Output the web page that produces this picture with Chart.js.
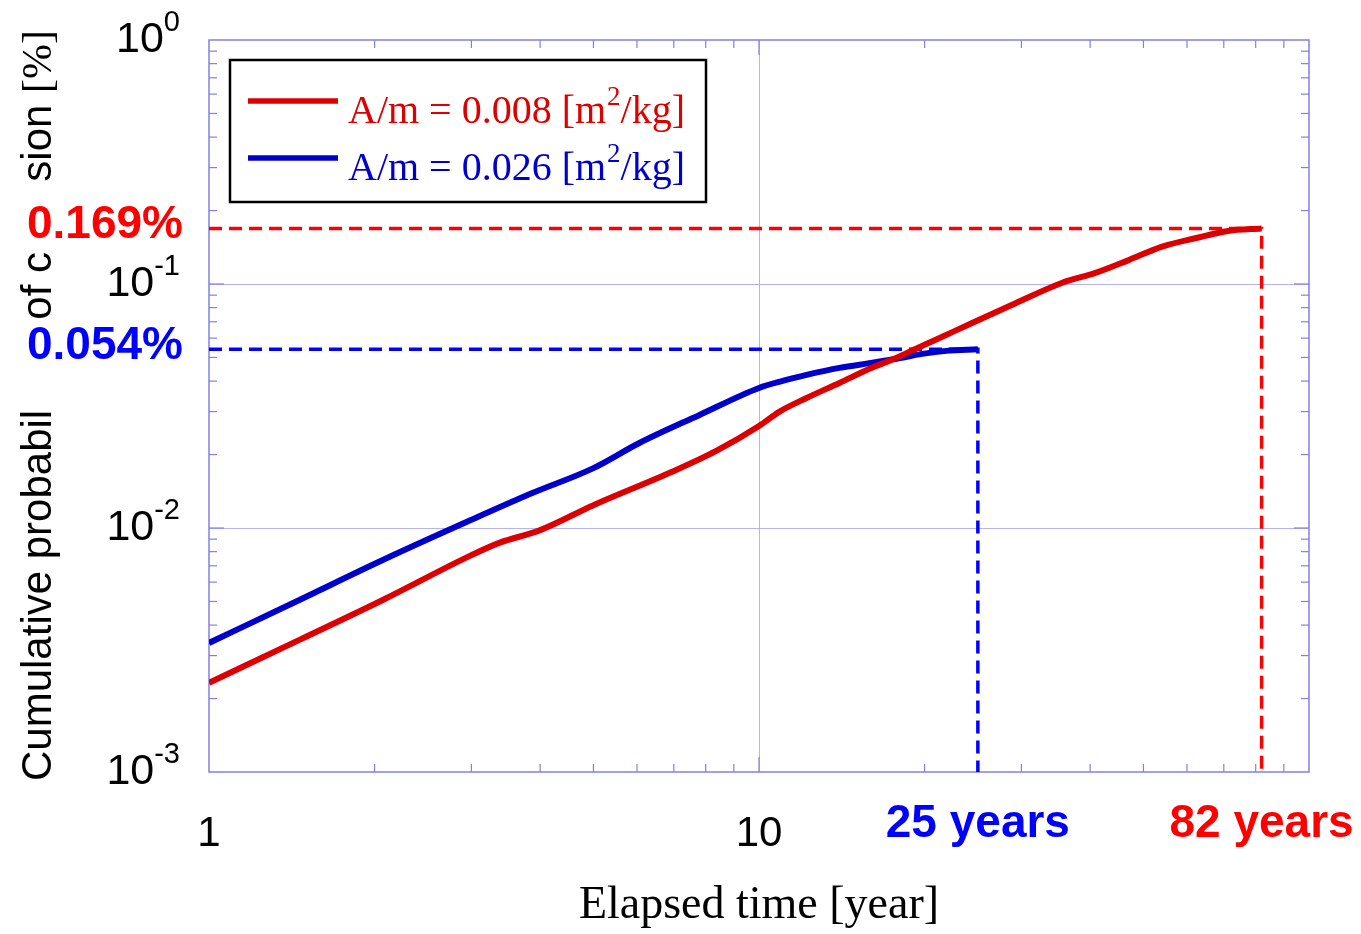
<!doctype html>
<html>

<head>
    <title>Cumulative probability of collision</title>
    <script src="https://cdn.jsdelivr.net/npm/chart.js"></script>
</head>

<style>
    body { margin: 0; background: white; }
</style>

<body>
    <canvas id="grafico" width="1361" height="934"></canvas>

    <script>
        // values (years, percent)
        var redYears = [1, 1.46, 2.07, 3.0, 3.37, 4.0, 5.0, 6.95, 8.36, 10, 10.9, 12.2, 14, 16, 17.4, 19.3, 21.2, 24.4, 28.8, 35.5, 40.9, 46.9, 53.9, 62.1, 71.3, 82];
        var redProb = [0.00232, 0.00348, 0.00507, 0.00774, 0.00869, 0.0098, 0.0124, 0.0170, 0.0207, 0.0262, 0.0300, 0.0341, 0.0393, 0.0453, 0.0488, 0.0543, 0.0598, 0.0692, 0.0820, 0.101, 0.111, 0.125, 0.142, 0.154, 0.165, 0.169];
        var blueYears = [1, 1.46, 2.07, 3.0, 3.87, 5.0, 6.06, 7.78, 10, 11, 12.2, 14, 16, 17.7, 19.8, 21.9, 25];
        var blueProb = [0.00338, 0.00507, 0.00739, 0.0108, 0.0139, 0.0176, 0.0223, 0.0290, 0.0375, 0.0400, 0.0424, 0.0453, 0.0475, 0.0493, 0.0517, 0.0532, 0.054];
        var areaToMass = ['0.008', '0.026'];

        var xMin = 1, xMax = 100;
        var yMin = 0.001, yMax = 1;
        var xTickLabels = [1, 10];
        var yTickExponents = [0, -1, -2, -3];
        var xGridValues = [10];
        var yGridValues = [0.1, 0.01];
        // the y title is partly covered by the value labels: only these pieces show
        var yTitleStart = 'Cumulative probabil';
        var yTitleMiddle = 'of c';
        var yTitleEnd = 'sion ';

        var sans = '"Liberation Sans", Arial, sans-serif';
        var serif = '"Liberation Serif", "Times New Roman", serif';
        var redLine = '#dd0000', blueLine = '#0000cc';
        var redDash = '#ff0000', blueDash = '#0000ff';
        var frameColor = '#8080e6';
        var gridColor = '#b4b4f0';

        function pontos(xs, ys) {
            return xs.map(function (x, i) { return { x: x, y: ys[i] }; });
        }

        function guia(xs, ys) {
            var n = xs.length - 1;
            return [{ x: xMin, y: ys[n] }, { x: xs[n], y: ys[n] }, { x: xs[n], y: yMin }];
        }

        function seg(ctx, x1, y1, x2, y2) {
            ctx.beginPath();
            ctx.moveTo(x1, y1);
            ctx.lineTo(x2, y2);
            ctx.stroke();
        }

        var decor = {
            id: 'decor',
            beforeDatasetsDraw: function (chart) {
                var ctx = chart.ctx, a = chart.chartArea;
                var xs = chart.scales.x, ys = chart.scales.y;
                ctx.save();
                ctx.lineWidth = 1;
                ctx.strokeStyle = gridColor;
                xGridValues.forEach(function (v) {
                    var px = Math.round(xs.getPixelForValue(v)) + 0.5;
                    seg(ctx, px, a.top, px, a.bottom);
                });
                yGridValues.forEach(function (v) {
                    var py = Math.round(ys.getPixelForValue(v)) + 0.5;
                    seg(ctx, a.left, py, a.right, py);
                });

                ctx.strokeStyle = frameColor;
                ctx.lineWidth = 1.5;
                ctx.strokeRect(a.left, a.top, a.right - a.left, a.bottom - a.top);

                // minor ticks inside, all four sides
                ctx.lineWidth = 1.2;
                for (var e = 0; e < 2; e++) {
                    for (var k = 2; k <= 9; k++) {
                        var px = xs.getPixelForValue(k * Math.pow(10, e));
                        seg(ctx, px, a.bottom, px, a.bottom - 8);
                        seg(ctx, px, a.top, px, a.top + 8);
                    }
                }
                for (var e = -3; e < 0; e++) {
                    for (var k = 2; k <= 9; k++) {
                        var py = ys.getPixelForValue(k * Math.pow(10, e));
                        seg(ctx, a.left, py, a.left + 8, py);
                        seg(ctx, a.right, py, a.right - 8, py);
                    }
                }
                xGridValues.forEach(function (v) {
                    var px = xs.getPixelForValue(v);
                    seg(ctx, px, a.bottom, px, a.bottom - 15);
                    seg(ctx, px, a.top, px, a.top + 15);
                });
                yGridValues.forEach(function (v) {
                    var py = ys.getPixelForValue(v);
                    seg(ctx, a.left, py, a.left + 15, py);
                    seg(ctx, a.right, py, a.right - 15, py);
                });
                ctx.restore();
            },
            afterDraw: function (chart) {
                var ctx = chart.ctx, a = chart.chartArea;
                var xs = chart.scales.x, ys = chart.scales.y;

                // y tick labels 10^n
                ctx.save();
                ctx.fillStyle = '#000';
                ctx.textAlign = 'right';
                ctx.textBaseline = 'alphabetic';
                yTickExponents.forEach(function (e) {
                    var py = ys.getPixelForValue(Math.pow(10, e));
                    var sup = e === 0 ? '0' : '-' + (-e);
                    ctx.font = '29px ' + sans;
                    ctx.fillText(sup, 180, py - 9);
                    var w = ctx.measureText(sup).width;
                    ctx.font = '43px ' + sans;
                    ctx.fillText('10', 180 - w, py + 12);
                });
                ctx.restore();

                // y title (pieces not covered by the labels)
                ctx.save();
                ctx.translate(51, 781);
                ctx.rotate(-Math.PI / 2);
                ctx.fillStyle = '#000';
                ctx.textAlign = 'left';
                ctx.textBaseline = 'alphabetic';
                ctx.font = '42px ' + sans;
                ctx.fillText(yTitleStart, 0, 0);
                var wm = ctx.measureText(yTitleMiddle).width;
                ctx.fillText(yTitleMiddle, 529 - wm, 0);
                var we = ctx.measureText(yTitleEnd).width;
                ctx.font = '42px ' + serif;
                var wp = ctx.measureText('[%]').width;
                ctx.fillText('[%]', 751 - wp, 0);
                ctx.font = '42px ' + sans;
                ctx.fillText(yTitleEnd, 751 - wp - we, 0);
                ctx.restore();

                // value labels at the end of each curve
                ctx.save();
                ctx.font = 'bold 46px ' + sans;
                ctx.textBaseline = 'alphabetic';
                [[redYears, redProb, redDash], [blueYears, blueProb, blueDash]].forEach(function (s) {
                    var n = s[0].length - 1;
                    var py = ys.getPixelForValue(s[1][n]);
                    var px = xs.getPixelForValue(s[0][n]);
                    ctx.fillStyle = s[2];
                    ctx.textAlign = 'right';
                    ctx.fillText(s[1][n].toFixed(3) + '%', 183, py + 10);
                    ctx.textAlign = 'center';
                    ctx.fillText(s[0][n] + ' years', px, 837);
                });
                ctx.restore();

                // legend box
                ctx.save();
                ctx.fillStyle = '#fff';
                ctx.fillRect(230, 60, 476, 142);
                ctx.strokeStyle = '#000';
                ctx.lineWidth = 2.5;
                ctx.strokeRect(230, 60, 476, 142);
                var cores = [redLine, blueLine];
                cores.forEach(function (c, i) {
                    var ly = 101 + i * 57;
                    ctx.strokeStyle = c;
                    ctx.lineWidth = 5.5;
                    seg(ctx, 248, ly, 338, ly);
                    ctx.fillStyle = c;
                    ctx.textAlign = 'left';
                    ctx.textBaseline = 'alphabetic';
                    var bx = 348, by = ly + 22;
                    var t1 = 'A/m = ' + areaToMass[i] + ' [m';
                    ctx.font = '40px ' + serif;
                    ctx.fillText(t1, bx, by);
                    bx += ctx.measureText(t1).width;
                    ctx.font = '27px ' + serif;
                    ctx.fillText('2', bx + 1, by - 18);
                    bx += ctx.measureText('2').width + 1;
                    ctx.font = '40px ' + serif;
                    ctx.fillText('/kg]', bx, by);
                });
                ctx.restore();
            }
        };

        var grafico = new Chart(document.getElementById('grafico').getContext('2d'), {
            type: 'line',
            data: {
                datasets: [{
                    label: 'A/m = ' + areaToMass[0] + ' [m²/kg]',
                    data: pontos(redYears, redProb),
                    borderColor: redLine,
                    borderWidth: 6,
                    pointRadius: 0,
                    cubicInterpolationMode: 'monotone',
                    order: 1
                }, {
                    label: 'A/m = ' + areaToMass[1] + ' [m²/kg]',
                    data: pontos(blueYears, blueProb),
                    borderColor: blueLine,
                    borderWidth: 6,
                    pointRadius: 0,
                    cubicInterpolationMode: 'monotone',
                    order: 2
                }, {
                    label: 'red guide',
                    data: guia(redYears, redProb),
                    borderColor: redDash,
                    borderWidth: 3.5,
                    borderDash: [13, 7],
                    pointRadius: 0,
                    order: 3
                }, {
                    label: 'blue guide',
                    data: guia(blueYears, blueProb),
                    borderColor: blueDash,
                    borderWidth: 3.5,
                    borderDash: [13, 7],
                    pointRadius: 0,
                    order: 4
                }]
            },
            options: {
                responsive: false,
                animation: false,
                layout: { padding: { top: 40, right: 52, left: 0, bottom: 0 } },
                plugins: {
                    legend: { display: false },
                    tooltip: { enabled: false }
                },
                scales: {
                    x: {
                        type: 'logarithmic',
                        min: xMin,
                        max: xMax,
                        grid: { display: false, drawTicks: false },
                        border: { display: false },
                        ticks: {
                            autoSkip: false,
                            maxRotation: 0,
                            padding: 37,
                            color: '#000',
                            font: { family: sans, size: 42 },
                            callback: function (v) {
                                return xTickLabels.indexOf(v) >= 0 ? String(v) : '';
                            }
                        },
                        title: {
                            display: true,
                            text: 'Elapsed time [year]',
                            color: '#000',
                            font: { family: serif, size: 46 },
                            padding: 0
                        },
                        afterFit: function (s) { s.height = 162; }
                    },
                    y: {
                        type: 'logarithmic',
                        min: yMin,
                        max: yMax,
                        grid: { display: false, drawTicks: false },
                        border: { display: false },
                        ticks: { display: false },
                        afterFit: function (s) { s.width = 209; }
                    }
                }
            },
            plugins: [decor]
        });
    </script>
</body>

</html>
